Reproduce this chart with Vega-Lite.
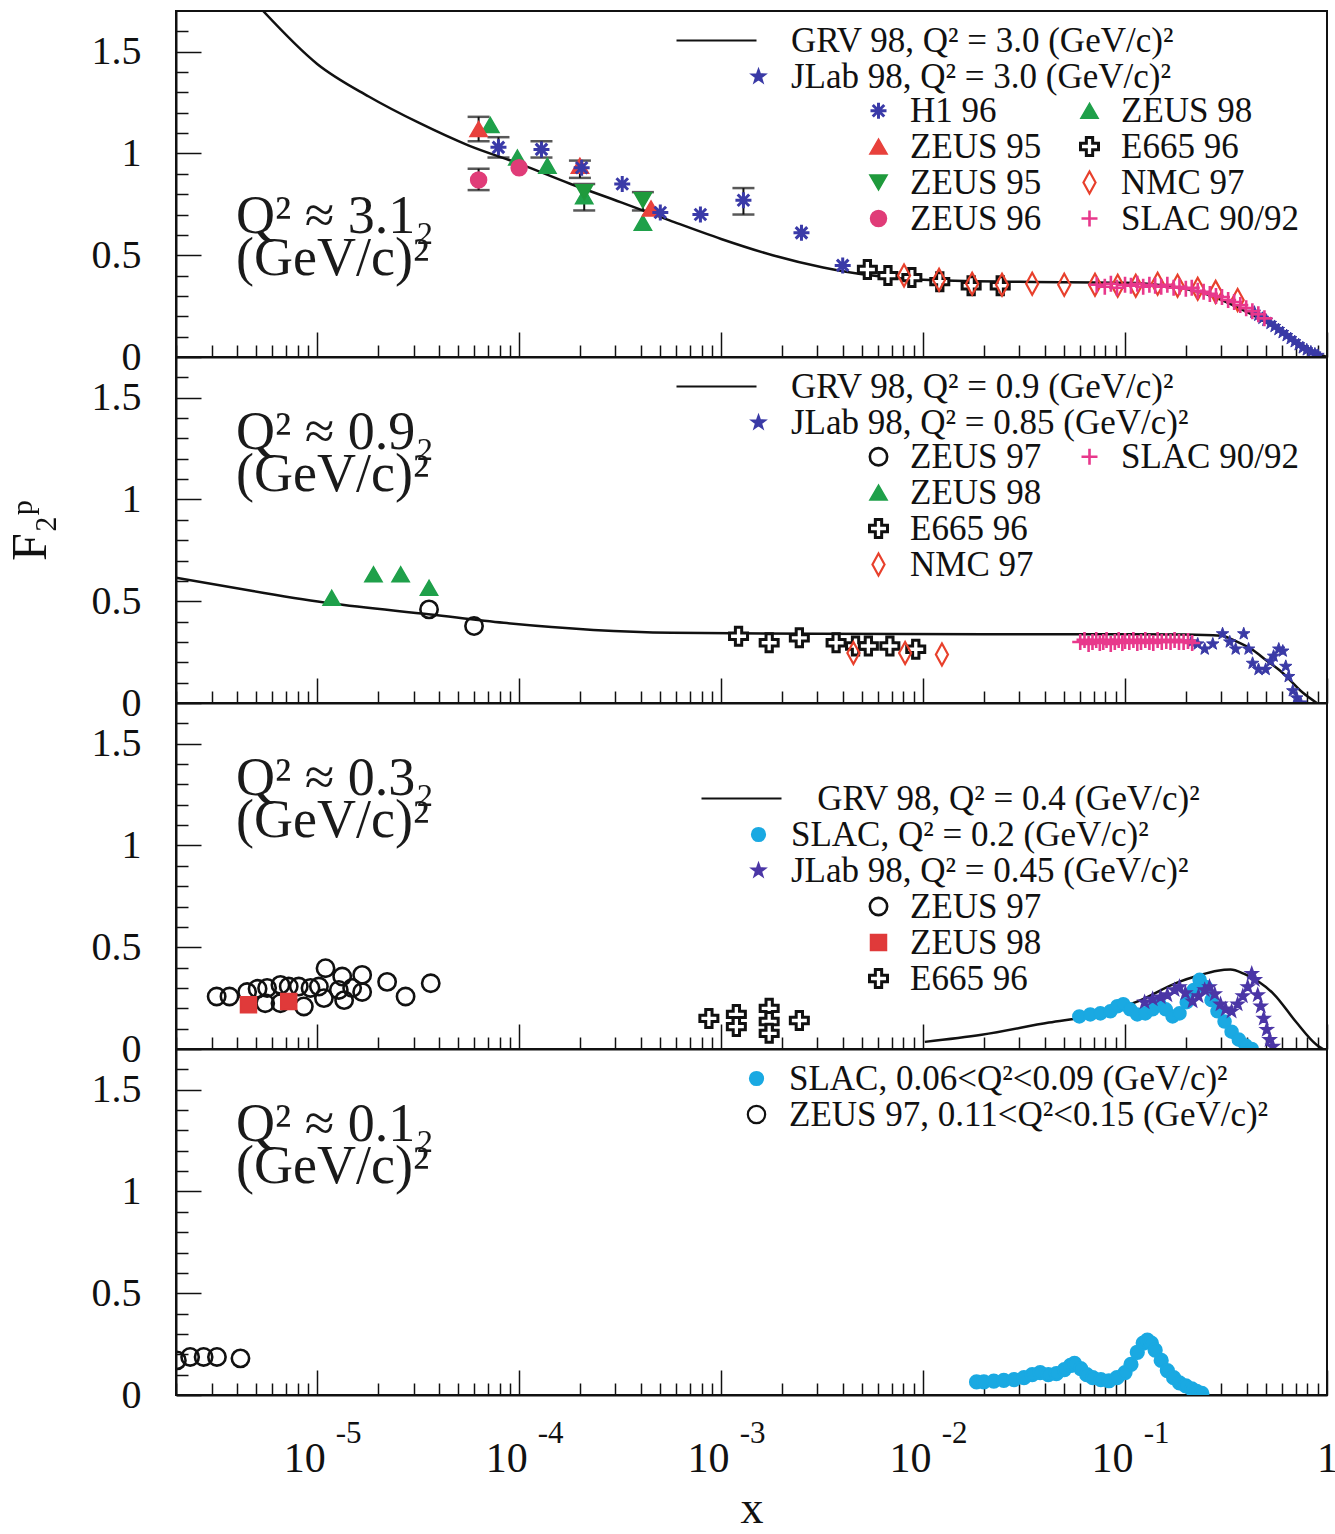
{
"$schema": "https://vega.github.io/schema/vega-lite/v6.json",
"background": "white",
"padding": {"left": 4, "top": 10, "right": 0, "bottom": 0},
"bounds": "flush",
"spacing": 0,
"datasets": {
"p1grv": [{"x":5.4e-6,"y":1.70,"s":"GRV"},{"x":1e-5,"y":1.44,"s":"GRV"},{"x":1.8e-5,"y":1.28,"s":"GRV"},{"x":3.2e-5,"y":1.15,"s":"GRV"},{"x":5.6e-5,"y":1.04,"s":"GRV"},{"x":1e-4,"y":0.95,"s":"GRV"},{"x":1.8e-4,"y":0.85,"s":"GRV"},{"x":3.2e-4,"y":0.76,"s":"GRV"},{"x":5.6e-4,"y":0.67,"s":"GRV"},{"x":1e-3,"y":0.58,"s":"GRV"},{"x":1.8e-3,"y":0.50,"s":"GRV"},{"x":3.2e-3,"y":0.44,"s":"GRV"},{"x":5.6e-3,"y":0.40,"s":"GRV"},{"x":1e-2,"y":0.38,"s":"GRV"},{"x":3e-2,"y":0.37,"s":"GRV"},{"x":0.1,"y":0.365,"s":"GRV"},{"x":0.16,"y":0.35,"s":"GRV"},{"x":0.25,"y":0.31,"s":"GRV"},{"x":0.35,"y":0.25,"s":"GRV"},{"x":0.5,"y":0.17,"s":"GRV"},{"x":0.7,"y":0.08,"s":"GRV"},{"x":0.89,"y":0.02,"s":"GRV"},{"x":1.0,"y":0.0,"s":"GRV"}],
"p1jlab": [{"x":0.437,"y":0.22,"s":"JLab"},{"x":0.457,"y":0.205,"s":"JLab"},{"x":0.479,"y":0.19,"s":"JLab"},{"x":0.501,"y":0.18,"s":"JLab"},{"x":0.525,"y":0.165,"s":"JLab"},{"x":0.55,"y":0.15,"s":"JLab"},{"x":0.575,"y":0.135,"s":"JLab"},{"x":0.603,"y":0.12,"s":"JLab"},{"x":0.631,"y":0.105,"s":"JLab"},{"x":0.661,"y":0.09,"s":"JLab"},{"x":0.692,"y":0.075,"s":"JLab"},{"x":0.724,"y":0.06,"s":"JLab"},{"x":0.759,"y":0.045,"s":"JLab"},{"x":0.794,"y":0.035,"s":"JLab"},{"x":0.832,"y":0.025,"s":"JLab"},{"x":0.871,"y":0.015,"s":"JLab"},{"x":0.902,"y":0.008,"s":"JLab"}],
"p1err": [{"x":6.3e-5,"y":1.06,"y2":1.18},{"x":6.3e-5,"y":0.82,"y2":0.925},{"x":7.9e-5,"y":0.98,"y2":1.08},{"x":1.29e-4,"y":0.98,"y2":1.06},{"x":2.0e-4,"y":0.88,"y2":0.965},{"x":2.1e-4,"y":0.72,"y2":0.85},{"x":4.1e-4,"y":0.72,"y2":0.81},{"x":1.29e-3,"y":0.70,"y2":0.83}],
"p1pts": [
{"x":5.3e-3,"y":0.43,"d":"E665 96"},{"x":6.7e-3,"y":0.40,"d":"E665 96"},{"x":8.8e-3,"y":0.39,"d":"E665 96"},{"x":1.21e-2,"y":0.37,"d":"E665 96"},{"x":1.73e-2,"y":0.35,"d":"E665 96"},{"x":2.41e-2,"y":0.35,"d":"E665 96"},
{"x":8.05e-3,"y":0.40,"d":"NMC 97"},{"x":1.2e-2,"y":0.38,"d":"NMC 97"},{"x":1.75e-2,"y":0.36,"d":"NMC 97"},{"x":2.46e-2,"y":0.355,"d":"NMC 97"},{"x":3.47e-2,"y":0.36,"d":"NMC 97"},{"x":5.0e-2,"y":0.355,"d":"NMC 97"},{"x":7.1e-2,"y":0.355,"d":"NMC 97"},{"x":9.2e-2,"y":0.35,"d":"NMC 97"},{"x":0.113,"y":0.35,"d":"NMC 97"},{"x":0.145,"y":0.36,"d":"NMC 97"},{"x":0.182,"y":0.35,"d":"NMC 97"},{"x":0.229,"y":0.335,"d":"NMC 97"},{"x":0.281,"y":0.32,"d":"NMC 97"},{"x":0.361,"y":0.28,"d":"NMC 97"},
{"x":0.0724,"y":0.355,"d":"SLAC 90/92"},{"x":0.0794,"y":0.345,"d":"SLAC 90/92"},{"x":0.0851,"y":0.36,"d":"SLAC 90/92"},{"x":0.0912,"y":0.34,"d":"SLAC 90/92"},{"x":0.1,"y":0.355,"d":"SLAC 90/92"},{"x":0.107,"y":0.35,"d":"SLAC 90/92"},{"x":0.115,"y":0.36,"d":"SLAC 90/92"},{"x":0.123,"y":0.345,"d":"SLAC 90/92"},{"x":0.132,"y":0.355,"d":"SLAC 90/92"},{"x":0.141,"y":0.35,"d":"SLAC 90/92"},{"x":0.151,"y":0.345,"d":"SLAC 90/92"},{"x":0.162,"y":0.355,"d":"SLAC 90/92"},{"x":0.174,"y":0.34,"d":"SLAC 90/92"},{"x":0.186,"y":0.345,"d":"SLAC 90/92"},{"x":0.2,"y":0.335,"d":"SLAC 90/92"},{"x":0.214,"y":0.34,"d":"SLAC 90/92"},{"x":0.229,"y":0.325,"d":"SLAC 90/92"},{"x":0.245,"y":0.32,"d":"SLAC 90/92"},{"x":0.263,"y":0.31,"d":"SLAC 90/92"},{"x":0.282,"y":0.30,"d":"SLAC 90/92"},{"x":0.302,"y":0.295,"d":"SLAC 90/92"},{"x":0.324,"y":0.28,"d":"SLAC 90/92"},{"x":0.347,"y":0.27,"d":"SLAC 90/92"},{"x":0.372,"y":0.255,"d":"SLAC 90/92"},{"x":0.398,"y":0.24,"d":"SLAC 90/92"},{"x":0.427,"y":0.225,"d":"SLAC 90/92"},{"x":0.457,"y":0.21,"d":"SLAC 90/92"},{"x":0.49,"y":0.19,"d":"SLAC 90/92"},
{"x":7.2e-5,"y":1.14,"d":"ZEUS 98"},{"x":9.8e-5,"y":0.98,"d":"ZEUS 98"},{"x":1.38e-4,"y":0.94,"d":"ZEUS 98"},{"x":2.1e-4,"y":0.79,"d":"ZEUS 98"},{"x":4.1e-4,"y":0.66,"d":"ZEUS 98"},
{"x":6.3e-5,"y":0.87,"d":"ZEUS 96"},{"x":1.0e-4,"y":0.93,"d":"ZEUS 96"},
{"x":6.3e-5,"y":1.12,"d":"ZEUS 95u"},{"x":2.0e-4,"y":0.94,"d":"ZEUS 95u"},{"x":4.5e-4,"y":0.73,"d":"ZEUS 95u"},
{"x":2.1e-4,"y":0.81,"d":"ZEUS 95d"},{"x":4.1e-4,"y":0.77,"d":"ZEUS 95d"},
{"x":7.9e-5,"y":1.03,"d":"H1 96"},{"x":1.29e-4,"y":1.02,"d":"H1 96"},{"x":2.04e-4,"y":0.93,"d":"H1 96"},{"x":3.24e-4,"y":0.85,"d":"H1 96"},{"x":5.0e-4,"y":0.71,"d":"H1 96"},{"x":7.9e-4,"y":0.70,"d":"H1 96"},{"x":1.29e-3,"y":0.77,"d":"H1 96"},{"x":2.5e-3,"y":0.61,"d":"H1 96"},{"x":4.0e-3,"y":0.45,"d":"H1 96"}],
"p2grv": [{"x":2e-6,"y":0.615,"s":"GRV"},{"x":4.8e-6,"y":0.55,"s":"GRV"},{"x":1.16e-5,"y":0.49,"s":"GRV"},{"x":3.65e-5,"y":0.435,"s":"GRV"},{"x":8.4e-5,"y":0.394,"s":"GRV"},{"x":5.7e-4,"y":0.345,"s":"GRV"},{"x":3e-3,"y":0.34,"s":"GRV"},{"x":2e-2,"y":0.338,"s":"GRV"},{"x":0.1,"y":0.338,"s":"GRV"},{"x":0.2,"y":0.337,"s":"GRV"},{"x":0.3,"y":0.33,"s":"GRV"},{"x":0.36,"y":0.3,"s":"GRV"},{"x":0.43,"y":0.26,"s":"GRV"},{"x":0.5,"y":0.21,"s":"GRV"},{"x":0.6,"y":0.15,"s":"GRV"},{"x":0.76,"y":0.05,"s":"GRV"},{"x":0.89,"y":0.0,"s":"GRV"}],
"p2jlab": [{"x":0.213,"y":0.30,"s":"JLab"},{"x":0.229,"y":0.29,"s":"JLab"},{"x":0.248,"y":0.265,"s":"JLab"},{"x":0.272,"y":0.29,"s":"JLab"},{"x":0.304,"y":0.34,"s":"JLab"},{"x":0.33,"y":0.30,"s":"JLab"},{"x":0.353,"y":0.265,"s":"JLab"},{"x":0.387,"y":0.34,"s":"JLab"},{"x":0.409,"y":0.265,"s":"JLab"},{"x":0.428,"y":0.195,"s":"JLab"},{"x":0.458,"y":0.165,"s":"JLab"},{"x":0.497,"y":0.165,"s":"JLab"},{"x":0.526,"y":0.205,"s":"JLab"},{"x":0.544,"y":0.23,"s":"JLab"},{"x":0.577,"y":0.265,"s":"JLab"},{"x":0.604,"y":0.255,"s":"JLab"},{"x":0.625,"y":0.18,"s":"JLab"},{"x":0.646,"y":0.13,"s":"JLab"},{"x":0.677,"y":0.06,"s":"JLab"},{"x":0.708,"y":0.025,"s":"JLab"},{"x":0.741,"y":0.0,"s":"JLab"}],
"p2pts": [
{"x":1.22e-3,"y":0.328,"d":"E665 96"},{"x":1.73e-3,"y":0.296,"d":"E665 96"},{"x":2.44e-3,"y":0.32,"d":"E665 96"},{"x":3.71e-3,"y":0.296,"d":"E665 96"},{"x":4.63e-3,"y":0.28,"d":"E665 96"},{"x":5.36e-3,"y":0.28,"d":"E665 96"},{"x":6.85e-3,"y":0.28,"d":"E665 96"},{"x":9.2e-3,"y":0.264,"d":"E665 96"},
{"x":4.52e-3,"y":0.246,"d":"NMC 97"},{"x":8.15e-3,"y":0.246,"d":"NMC 97"},{"x":1.24e-2,"y":0.238,"d":"NMC 97"},
{"x":0.06,"y":0.30,"d":"SLAC 90/92"},{"x":0.063,"y":0.31,"d":"SLAC 90/92"},{"x":0.066,"y":0.29,"d":"SLAC 90/92"},{"x":0.069,"y":0.30,"d":"SLAC 90/92"},{"x":0.072,"y":0.31,"d":"SLAC 90/92"},{"x":0.075,"y":0.295,"d":"SLAC 90/92"},{"x":0.078,"y":0.30,"d":"SLAC 90/92"},{"x":0.081,"y":0.31,"d":"SLAC 90/92"},{"x":0.085,"y":0.29,"d":"SLAC 90/92"},{"x":0.089,"y":0.30,"d":"SLAC 90/92"},{"x":0.093,"y":0.31,"d":"SLAC 90/92"},{"x":0.097,"y":0.295,"d":"SLAC 90/92"},{"x":0.1,"y":0.305,"d":"SLAC 90/92"},{"x":0.105,"y":0.30,"d":"SLAC 90/92"},{"x":0.11,"y":0.31,"d":"SLAC 90/92"},{"x":0.115,"y":0.295,"d":"SLAC 90/92"},{"x":0.12,"y":0.30,"d":"SLAC 90/92"},{"x":0.126,"y":0.31,"d":"SLAC 90/92"},{"x":0.132,"y":0.30,"d":"SLAC 90/92"},{"x":0.138,"y":0.295,"d":"SLAC 90/92"},{"x":0.145,"y":0.31,"d":"SLAC 90/92"},{"x":0.152,"y":0.30,"d":"SLAC 90/92"},{"x":0.16,"y":0.305,"d":"SLAC 90/92"},{"x":0.168,"y":0.30,"d":"SLAC 90/92"},{"x":0.176,"y":0.31,"d":"SLAC 90/92"},{"x":0.185,"y":0.30,"d":"SLAC 90/92"},{"x":0.195,"y":0.30,"d":"SLAC 90/92"},{"x":0.205,"y":0.305,"d":"SLAC 90/92"},{"x":0.215,"y":0.295,"d":"SLAC 90/92"},
{"x":1.18e-5,"y":0.517,"d":"ZEUS 98"},{"x":1.9e-5,"y":0.632,"d":"ZEUS 98"},{"x":2.59e-5,"y":0.632,"d":"ZEUS 98"},{"x":3.58e-5,"y":0.566,"d":"ZEUS 98"},
{"x":3.58e-5,"y":0.46,"d":"ZEUS 97"},{"x":5.98e-5,"y":0.378,"d":"ZEUS 97"}],
"p3grv": [{"x":1.02e-2,"y":0.035,"s":"GRV"},{"x":1.95e-2,"y":0.07,"s":"GRV"},{"x":4.2e-2,"y":0.13,"s":"GRV"},{"x":6.9e-2,"y":0.165,"s":"GRV"},{"x":0.113,"y":0.23,"s":"GRV"},{"x":0.185,"y":0.33,"s":"GRV"},{"x":0.229,"y":0.36,"s":"GRV"},{"x":0.287,"y":0.385,"s":"GRV"},{"x":0.333,"y":0.39,"s":"GRV"},{"x":0.387,"y":0.37,"s":"GRV"},{"x":0.459,"y":0.33,"s":"GRV"},{"x":0.545,"y":0.27,"s":"GRV"},{"x":0.70,"y":0.135,"s":"GRV"},{"x":0.89,"y":0.02,"s":"GRV"},{"x":0.955,"y":0.0,"s":"GRV"}],
"p3a": [
{"x":0.0594,"y":0.16,"s":"SLAC"},{"x":0.0673,"y":0.17,"s":"SLAC"},{"x":0.0755,"y":0.175,"s":"SLAC"},{"x":0.0846,"y":0.185,"s":"SLAC"},{"x":0.0916,"y":0.21,"s":"SLAC"},{"x":0.098,"y":0.22,"s":"SLAC"},{"x":0.106,"y":0.195,"s":"SLAC"},{"x":0.115,"y":0.17,"s":"SLAC"},{"x":0.126,"y":0.175,"s":"SLAC"},{"x":0.137,"y":0.195,"s":"SLAC"},{"x":0.148,"y":0.22,"s":"SLAC"},{"x":0.159,"y":0.195,"s":"SLAC"},{"x":0.172,"y":0.16,"s":"SLAC"},{"x":0.186,"y":0.175,"s":"SLAC"},{"x":0.202,"y":0.23,"s":"SLAC"},{"x":0.219,"y":0.29,"s":"SLAC"},{"x":0.234,"y":0.34,"s":"SLAC"},{"x":0.251,"y":0.305,"s":"SLAC"},{"x":0.268,"y":0.24,"s":"SLAC"},{"x":0.287,"y":0.185,"s":"SLAC"},{"x":0.311,"y":0.135,"s":"SLAC"},{"x":0.337,"y":0.085,"s":"SLAC"},{"x":0.366,"y":0.046,"s":"SLAC"},{"x":0.396,"y":0.017,"s":"SLAC"},{"x":0.424,"y":0.0,"s":"SLAC"},
{"x":0.125,"y":0.23,"s":"JLab"},{"x":0.137,"y":0.245,"s":"JLab"},{"x":0.15,"y":0.255,"s":"JLab"},{"x":0.162,"y":0.265,"s":"JLab"},{"x":0.176,"y":0.29,"s":"JLab"},{"x":0.186,"y":0.305,"s":"JLab"},{"x":0.199,"y":0.275,"s":"JLab"},{"x":0.216,"y":0.235,"s":"JLab"},{"x":0.231,"y":0.26,"s":"JLab"},{"x":0.248,"y":0.29,"s":"JLab"},{"x":0.262,"y":0.305,"s":"JLab"},{"x":0.278,"y":0.27,"s":"JLab"},{"x":0.297,"y":0.22,"s":"JLab"},{"x":0.315,"y":0.195,"s":"JLab"},{"x":0.337,"y":0.185,"s":"JLab"},{"x":0.361,"y":0.22,"s":"JLab"},{"x":0.383,"y":0.26,"s":"JLab"},{"x":0.405,"y":0.305,"s":"JLab"},{"x":0.424,"y":0.37,"s":"JLab"},{"x":0.439,"y":0.34,"s":"JLab"},{"x":0.454,"y":0.265,"s":"JLab"},{"x":0.47,"y":0.21,"s":"JLab"},{"x":0.486,"y":0.15,"s":"JLab"},{"x":0.503,"y":0.095,"s":"JLab"},{"x":0.52,"y":0.045,"s":"JLab"},{"x":0.539,"y":0.012,"s":"JLab"}],
"p3pts": [
{"x":3.18e-6,"y":0.258,"d":"ZEUS 97"},{"x":3.68e-6,"y":0.258,"d":"ZEUS 97"},{"x":4.5e-6,"y":0.28,"d":"ZEUS 97"},{"x":5.07e-6,"y":0.296,"d":"ZEUS 97"},{"x":5.65e-6,"y":0.30,"d":"ZEUS 97"},{"x":5.53e-6,"y":0.225,"d":"ZEUS 97"},{"x":6.58e-6,"y":0.315,"d":"ZEUS 97"},{"x":6.58e-6,"y":0.225,"d":"ZEUS 97"},{"x":7.23e-6,"y":0.307,"d":"ZEUS 97"},{"x":8.11e-6,"y":0.307,"d":"ZEUS 97"},{"x":8.59e-6,"y":0.209,"d":"ZEUS 97"},{"x":9.27e-6,"y":0.30,"d":"ZEUS 97"},{"x":1.02e-5,"y":0.307,"d":"ZEUS 97"},{"x":1.08e-5,"y":0.25,"d":"ZEUS 97"},{"x":1.10e-5,"y":0.397,"d":"ZEUS 97"},{"x":1.28e-5,"y":0.29,"d":"ZEUS 97"},{"x":1.36e-5,"y":0.24,"d":"ZEUS 97"},{"x":1.33e-5,"y":0.356,"d":"ZEUS 97"},{"x":1.49e-5,"y":0.30,"d":"ZEUS 97"},{"x":1.67e-5,"y":0.364,"d":"ZEUS 97"},{"x":1.67e-5,"y":0.28,"d":"ZEUS 97"},{"x":2.22e-5,"y":0.33,"d":"ZEUS 97"},{"x":2.74e-5,"y":0.258,"d":"ZEUS 97"},{"x":3.65e-5,"y":0.323,"d":"ZEUS 97"},
{"x":4.57e-6,"y":0.217,"d":"ZEUS 98"},{"x":7.23e-6,"y":0.233,"d":"ZEUS 98"},
{"x":8.7e-4,"y":0.15,"d":"E665 96"},{"x":1.19e-3,"y":0.17,"d":"E665 96"},{"x":1.19e-3,"y":0.11,"d":"E665 96"},{"x":1.73e-3,"y":0.20,"d":"E665 96"},{"x":1.73e-3,"y":0.135,"d":"E665 96"},{"x":1.73e-3,"y":0.077,"d":"E665 96"},{"x":2.44e-3,"y":0.14,"d":"E665 96"}],
"p4slac": [
{"x":0.0184,"y":0.064,"s":"SLAC"},{"x":0.02,"y":0.065,"s":"SLAC"},{"x":0.0224,"y":0.068,"s":"SLAC"},{"x":0.0251,"y":0.072,"s":"SLAC"},{"x":0.0282,"y":0.075,"s":"SLAC"},{"x":0.0316,"y":0.085,"s":"SLAC"},{"x":0.0347,"y":0.10,"s":"SLAC"},{"x":0.038,"y":0.11,"s":"SLAC"},{"x":0.0417,"y":0.10,"s":"SLAC"},{"x":0.0457,"y":0.105,"s":"SLAC"},{"x":0.0501,"y":0.125,"s":"SLAC"},{"x":0.0537,"y":0.145,"s":"SLAC"},{"x":0.0562,"y":0.155,"s":"SLAC"},{"x":0.0603,"y":0.13,"s":"SLAC"},{"x":0.0646,"y":0.10,"s":"SLAC"},{"x":0.0692,"y":0.085,"s":"SLAC"},{"x":0.0759,"y":0.075,"s":"SLAC"},{"x":0.0832,"y":0.07,"s":"SLAC"},{"x":0.0912,"y":0.085,"s":"SLAC"},{"x":0.1,"y":0.11,"s":"SLAC"},{"x":0.107,"y":0.15,"s":"SLAC"},{"x":0.115,"y":0.21,"s":"SLAC"},{"x":0.123,"y":0.255,"s":"SLAC"},{"x":0.129,"y":0.27,"s":"SLAC"},{"x":0.135,"y":0.255,"s":"SLAC"},{"x":0.141,"y":0.22,"s":"SLAC"},{"x":0.151,"y":0.17,"s":"SLAC"},{"x":0.162,"y":0.12,"s":"SLAC"},{"x":0.174,"y":0.085,"s":"SLAC"},{"x":0.186,"y":0.06,"s":"SLAC"},{"x":0.2,"y":0.045,"s":"SLAC"},{"x":0.214,"y":0.03,"s":"SLAC"},{"x":0.226,"y":0.018,"s":"SLAC"},{"x":0.24,"y":0.008,"s":"SLAC"}],
"p4zeus": [{"x":2.02e-6,"y":0.17,"s":"ZEUS 97"},{"x":2.35e-6,"y":0.187,"s":"ZEUS 97"},{"x":2.74e-6,"y":0.187,"s":"ZEUS 97"},{"x":3.19e-6,"y":0.187,"s":"ZEUS 97"},{"x":4.17e-6,"y":0.18,"s":"ZEUS 97"}]
},
"vconcat": [
{
"width": 1151, "height": 346,
"title": {"text": ["Q² ≈ 3.1₂", "(GeV/c)²"], "anchor": "start", "frame": "group", "orient": "top", "offset": -275, "dx": 60, "baseline": "top", "font": "Liberation Serif", "fontSize": 54, "fontWeight": "normal", "color": "#1a1a1a", "lineHeight": 42},
"encoding": {
 "x": {"field": "x", "type": "quantitative", "scale": {"type": "log", "domain": [2e-6, 1], "nice": false}, "axis": {"values": [2e-6,3e-6,4e-6,5e-6,6e-6,7e-6,8e-6,9e-6,1e-5,2e-5,3e-5,4e-5,5e-5,6e-5,7e-5,8e-5,9e-5,1e-4,2e-4,3e-4,4e-4,5e-4,6e-4,7e-4,8e-4,9e-4,1e-3,2e-3,3e-3,4e-3,5e-3,6e-3,7e-3,8e-3,9e-3,1e-2,2e-2,3e-2,4e-2,5e-2,6e-2,7e-2,8e-2,9e-2,0.1,0.2,0.3,0.4,0.5,0.6,0.7,0.8,0.9,1], "labels": false, "title": null, "tickSize": {"condition": {"test": "abs(log(datum.value)/LN10 - round(log(datum.value)/LN10)) < 0.01", "value": -25}, "value": -12}}},
 "y": {"field": "y", "type": "quantitative", "scale": {"domain": [0, 1.7], "nice": false, "zero": false}, "axis": {"values": [0,0.1,0.2,0.3,0.4,0.5,0.6,0.7,0.8,0.9,1,1.1,1.2,1.3,1.4,1.5,1.6], "labelExpr": "datum.value == 0 ? '0' : datum.value == 0.5 ? '0.5' : datum.value == 1 ? '1' : datum.value == 1.5 ? '1.5' : ''", "tickSize": {"condition": {"test": "abs(datum.value*2 - round(datum.value*2)) < 0.01", "value": -25}, "value": -12}, "labelPadding": 60, "labelFontSize": 40, "title": "F₂ᵖ", "titleFontSize": 50, "titleOpacity": 0, "titlePadding": 36}}
},
"layer": [
 {"layer": [
  {"data": {"name": "p1grv"}, "mark": {"type": "line", "strokeWidth": 2.5, "clip": true, "interpolate": "monotone"}, "encoding": {"stroke": {"field": "s", "type": "nominal", "scale": {"domain": ["GRV","JLab"], "range": ["#111111","#3a3aa6"]}}}},
  {"data": {"name": "p1jlab"}, "mark": {"type": "point", "filled": true, "opacity": 1, "strokeWidth": 1, "clip": true}, "encoding": {
   "shape": {"field": "s", "type": "nominal", "scale": {"domain": ["GRV","JLab"], "range": ["M-16.4,0L-0.4,0", "M0,-1L0.235,-0.324L0.951,-0.309L0.38,0.124L0.588,0.809L0,0.4L-0.588,0.809L-0.38,0.124L-0.951,-0.309L-0.235,-0.324Z"]}, "legend": {"orient": "none", "legendX": 565, "legendY": 12, "title": null, "labelOffset": 15, "labelExpr": "datum.label == 'GRV' ? 'GRV 98, Q² = 3.0 (GeV/c)²' : 'JLab 98, Q² = 3.0 (GeV/c)²'"}},
   "fill": {"field": "s", "type": "nominal", "scale": {"domain": ["GRV","JLab"], "range": ["transparent","#3a3aa6"]}},
   "stroke": {"field": "s", "type": "nominal", "scale": {"domain": ["GRV","JLab"], "range": ["#111111","#3a3aa6"]}},
   "size": {"field": "s", "type": "nominal", "scale": {"type": "ordinal", "domain": ["GRV","JLab"], "range": [100,170]}}
  }}
 ]},
 {"data": {"name": "p1err"}, "mark": {"type": "rule", "strokeWidth": 2, "color": "#111111"}, "encoding": {"y2": {"field": "y2"}}},
 {"data": {"name": "p1err"}, "mark": {"type": "tick", "orient": "horizontal", "size": 22, "thickness": 2.5, "color": "#111111"}},
 {"data": {"name": "p1err"}, "mark": {"type": "tick", "orient": "horizontal", "size": 22, "thickness": 2.5, "color": "#111111"}, "encoding": {"y": {"field": "y2", "type": "quantitative", "axis": {"values": [0,0.1,0.2,0.3,0.4,0.5,0.6,0.7,0.8,0.9,1,1.1,1.2,1.3,1.4,1.5,1.6], "labelExpr": "datum.value == 0 ? '0' : datum.value == 0.5 ? '0.5' : datum.value == 1 ? '1' : datum.value == 1.5 ? '1.5' : ''", "tickSize": {"condition": {"test": "abs(datum.value*2 - round(datum.value*2)) < 0.01", "value": -25}, "value": -12}, "labelPadding": 60, "labelFontSize": 40, "title": "F₂ᵖ", "titleFontSize": 50, "titleOpacity": 0, "titlePadding": 36}}}},
 {"data": {"name": "p1pts"}, "mark": {"type": "point", "filled": true, "opacity": 1, "clip": true}, "encoding": {
   "shape": {"field": "d", "type": "nominal", "scale": {"domain": ["H1 96","ZEUS 95u","ZEUS 95d","ZEUS 96","ZEUS 98","E665 96","NMC 97","SLAC 90/92"], "range": ["M-1,0L1,0M0,-1L0,1M-0.72,-0.72L0.72,0.72M-0.72,0.72L0.72,-0.72","triangle-up","triangle-down","circle","triangle-up","M-0.35,-1L0.35,-1L0.35,-0.35L1,-0.35L1,0.35L0.35,0.35L0.35,1L-0.35,1L-0.35,0.35L-1,0.35L-1,-0.35L-0.35,-0.35Z","M0,-1L0.55,0L0,1L-0.55,0Z","M-1,0L1,0M0,-1L0,1"]}, "legend": {"orient": "none", "legendX": 685, "legendY": 82, "title": null, "columns": 2, "columnPadding": 30, "labelOffset": 14, "labelExpr": "datum.label == 'ZEUS 95u' || datum.label == 'ZEUS 95d' ? 'ZEUS 95' : datum.label"}},
   "fill": {"field": "d", "type": "nominal", "scale": {"domain": ["H1 96","ZEUS 95u","ZEUS 95d","ZEUS 96","ZEUS 98","E665 96","NMC 97","SLAC 90/92"], "range": ["transparent","#e8413c","#1f9a3c","#e03c78","#1fa04a","white","transparent","transparent"]}},
   "stroke": {"field": "d", "type": "nominal", "scale": {"domain": ["H1 96","ZEUS 95u","ZEUS 95d","ZEUS 96","ZEUS 98","E665 96","NMC 97","SLAC 90/92"], "range": ["#3a3aa8","#e8413c","#1f9a3c","#e03c78","#1fa04a","#111111","#e8402c","#e8388c"]}},
   "size": {"field": "d", "type": "nominal", "scale": {"type": "ordinal", "domain": ["H1 96","ZEUS 95u","ZEUS 95d","ZEUS 96","ZEUS 98","E665 96","NMC 97","SLAC 90/92"], "range": [256,300,300,256,300,324,484,256]}},
   "strokeWidth": {"field": "d", "type": "nominal", "scale": {"type": "ordinal", "domain": ["H1 96","ZEUS 95u","ZEUS 95d","ZEUS 96","ZEUS 98","E665 96","NMC 97","SLAC 90/92"], "range": [3,1.5,1.5,1.5,1.5,3,2.2,2.6]}}
 }}
],
"resolve": {"scale": {"shape": "independent", "fill": "independent", "stroke": "independent", "size": "independent", "strokeWidth": "independent"}}
},
{
"width": 1151, "height": 346,
"title": {"text": ["Q² ≈ 0.9₂", "(GeV/c)²"], "anchor": "start", "frame": "group", "orient": "top", "offset": -145, "dx": 60, "baseline": "top", "font": "Liberation Serif", "fontSize": 54, "fontWeight": "normal", "color": "#1a1a1a", "lineHeight": 42},
"encoding": {
 "x": {"field": "x", "type": "quantitative", "scale": {"type": "log", "domain": [2e-6, 1], "nice": false}, "axis": {"values": [2e-6,3e-6,4e-6,5e-6,6e-6,7e-6,8e-6,9e-6,1e-5,2e-5,3e-5,4e-5,5e-5,6e-5,7e-5,8e-5,9e-5,1e-4,2e-4,3e-4,4e-4,5e-4,6e-4,7e-4,8e-4,9e-4,1e-3,2e-3,3e-3,4e-3,5e-3,6e-3,7e-3,8e-3,9e-3,1e-2,2e-2,3e-2,4e-2,5e-2,6e-2,7e-2,8e-2,9e-2,0.1,0.2,0.3,0.4,0.5,0.6,0.7,0.8,0.9,1], "labels": false, "title": null, "tickSize": {"condition": {"test": "abs(log(datum.value)/LN10 - round(log(datum.value)/LN10)) < 0.01", "value": -25}, "value": -12}}},
 "y": {"field": "y", "type": "quantitative", "scale": {"domain": [0, 1.7], "nice": false, "zero": false}, "axis": {"values": [0,0.1,0.2,0.3,0.4,0.5,0.6,0.7,0.8,0.9,1,1.1,1.2,1.3,1.4,1.5,1.6], "labelExpr": "datum.value == 0 ? '0' : datum.value == 0.5 ? '0.5' : datum.value == 1 ? '1' : datum.value == 1.5 ? '1.5' : ''", "tickSize": {"condition": {"test": "abs(datum.value*2 - round(datum.value*2)) < 0.01", "value": -25}, "value": -12}, "labelPadding": 60, "labelFontSize": 40, "title": "F₂ᵖ", "titleFontSize": 50, "titleOpacity": 1, "titlePadding": 36}}
},
"layer": [
 {"layer": [
  {"data": {"name": "p2grv"}, "mark": {"type": "line", "strokeWidth": 2.5, "clip": true, "interpolate": "monotone"}, "encoding": {"stroke": {"field": "s", "type": "nominal", "scale": {"domain": ["GRV","JLab"], "range": ["#111111","#3a3aa6"]}}}},
  {"data": {"name": "p2jlab"}, "mark": {"type": "point", "filled": true, "opacity": 1, "strokeWidth": 1, "clip": true}, "encoding": {
   "shape": {"field": "s", "type": "nominal", "scale": {"domain": ["GRV","JLab"], "range": ["M-16.4,0L-0.4,0", "M0,-1L0.235,-0.324L0.951,-0.309L0.38,0.124L0.588,0.809L0,0.4L-0.588,0.809L-0.38,0.124L-0.951,-0.309L-0.235,-0.324Z"]}, "legend": {"orient": "none", "legendX": 565, "legendY": 12, "title": null, "labelOffset": 15, "labelExpr": "datum.label == 'GRV' ? 'GRV 98, Q² = 0.9 (GeV/c)²' : 'JLab 98, Q² = 0.85 (GeV/c)²'"}},
   "fill": {"field": "s", "type": "nominal", "scale": {"domain": ["GRV","JLab"], "range": ["transparent","#3a3aa6"]}},
   "stroke": {"field": "s", "type": "nominal", "scale": {"domain": ["GRV","JLab"], "range": ["#111111","#3a3aa6"]}},
   "size": {"field": "s", "type": "nominal", "scale": {"type": "ordinal", "domain": ["GRV","JLab"], "range": [100,170]}}
  }}
 ]},
 {"data": {"name": "p2pts"}, "mark": {"type": "point", "filled": true, "opacity": 1, "clip": true}, "encoding": {
   "shape": {"field": "d", "type": "nominal", "scale": {"domain": ["ZEUS 97","ZEUS 98","E665 96","NMC 97","SLAC 90/92","_1","_2","_3"], "range": ["circle","triangle-up","M-0.35,-1L0.35,-1L0.35,-0.35L1,-0.35L1,0.35L0.35,0.35L0.35,1L-0.35,1L-0.35,0.35L-1,0.35L-1,-0.35L-0.35,-0.35Z","M0,-1L0.55,0L0,1L-0.55,0Z","M-1,0L1,0M0,-1L0,1","circle","circle","circle"]}, "legend": {"orient": "none", "legendX": 685, "legendY": 82, "title": null, "columns": 2, "columnPadding": 30, "labelOffset": 14, "labelExpr": "indexof(datum.label, '_') == 0 ? ' ' : datum.label"}},
   "fill": {"field": "d", "type": "nominal", "scale": {"domain": ["ZEUS 97","ZEUS 98","E665 96","NMC 97","SLAC 90/92","_1","_2","_3"], "range": ["transparent","#1fa04a","white","transparent","transparent","transparent","transparent","transparent"]}},
   "stroke": {"field": "d", "type": "nominal", "scale": {"domain": ["ZEUS 97","ZEUS 98","E665 96","NMC 97","SLAC 90/92","_1","_2","_3"], "range": ["#111111","#1fa04a","#111111","#e8402c","#e8388c","transparent","transparent","transparent"]}},
   "size": {"field": "d", "type": "nominal", "scale": {"type": "ordinal", "domain": ["ZEUS 97","ZEUS 98","E665 96","NMC 97","SLAC 90/92","_1","_2","_3"], "range": [300,300,324,484,256,4,4,4]}},
   "strokeWidth": {"field": "d", "type": "nominal", "scale": {"type": "ordinal", "domain": ["ZEUS 97","ZEUS 98","E665 96","NMC 97","SLAC 90/92","_1","_2","_3"], "range": [2.6,1.5,3,2.2,2.6,1,1,1]}}
 }}
],
"resolve": {"scale": {"shape": "independent", "fill": "independent", "stroke": "independent", "size": "independent", "strokeWidth": "independent"}}
},
{
"width": 1151, "height": 346,
"title": {"text": ["Q² ≈ 0.3₂", "(GeV/c)²"], "anchor": "start", "frame": "group", "orient": "top", "offset": -145, "dx": 60, "baseline": "top", "font": "Liberation Serif", "fontSize": 54, "fontWeight": "normal", "color": "#1a1a1a", "lineHeight": 42},
"encoding": {
 "x": {"field": "x", "type": "quantitative", "scale": {"type": "log", "domain": [2e-6, 1], "nice": false}, "axis": {"values": [2e-6,3e-6,4e-6,5e-6,6e-6,7e-6,8e-6,9e-6,1e-5,2e-5,3e-5,4e-5,5e-5,6e-5,7e-5,8e-5,9e-5,1e-4,2e-4,3e-4,4e-4,5e-4,6e-4,7e-4,8e-4,9e-4,1e-3,2e-3,3e-3,4e-3,5e-3,6e-3,7e-3,8e-3,9e-3,1e-2,2e-2,3e-2,4e-2,5e-2,6e-2,7e-2,8e-2,9e-2,0.1,0.2,0.3,0.4,0.5,0.6,0.7,0.8,0.9,1], "labels": false, "title": null, "tickSize": {"condition": {"test": "abs(log(datum.value)/LN10 - round(log(datum.value)/LN10)) < 0.01", "value": -25}, "value": -12}}},
 "y": {"field": "y", "type": "quantitative", "scale": {"domain": [0, 1.7], "nice": false, "zero": false}, "axis": {"values": [0,0.1,0.2,0.3,0.4,0.5,0.6,0.7,0.8,0.9,1,1.1,1.2,1.3,1.4,1.5,1.6], "labelExpr": "datum.value == 0 ? '0' : datum.value == 0.5 ? '0.5' : datum.value == 1 ? '1' : datum.value == 1.5 ? '1.5' : ''", "tickSize": {"condition": {"test": "abs(datum.value*2 - round(datum.value*2)) < 0.01", "value": -25}, "value": -12}, "labelPadding": 60, "labelFontSize": 40, "title": "F₂ᵖ", "titleFontSize": 50, "titleOpacity": 0, "titlePadding": 36}}
},
"layer": [
 {"layer": [
  {"data": {"name": "p3grv"}, "mark": {"type": "line", "strokeWidth": 2.5, "clip": true, "interpolate": "monotone"}, "encoding": {"stroke": {"field": "s", "type": "nominal", "scale": {"domain": ["GRV","SLAC","JLab"], "range": ["#111111","#1aa9e2","#4b36a6"]}}}},
  {"data": {"name": "p3a"}, "mark": {"type": "point", "filled": true, "opacity": 1, "strokeWidth": 1.5, "clip": true}, "encoding": {
   "shape": {"field": "s", "type": "nominal", "scale": {"domain": ["GRV","SLAC","JLab"], "range": ["M-11.4,0L4.6,0", "circle", "M0,-1L0.235,-0.324L0.951,-0.309L0.38,0.124L0.588,0.809L0,0.4L-0.588,0.809L-0.38,0.124L-0.951,-0.309L-0.235,-0.324Z"]}, "legend": {"orient": "none", "legendX": 565, "legendY": 78, "title": null, "labelOffset": 15, "labelExpr": "datum.label == 'GRV' ? '\u200b\u00a0\u00a0\u00a0GRV 98, Q² = 0.4 (GeV/c)²' : datum.label == 'SLAC' ? 'SLAC, Q² = 0.2 (GeV/c)²' : 'JLab 98, Q² = 0.45 (GeV/c)²'"}},
   "fill": {"field": "s", "type": "nominal", "scale": {"domain": ["GRV","SLAC","JLab"], "range": ["transparent","#1aa9e2","#4b36a6"]}},
   "stroke": {"field": "s", "type": "nominal", "scale": {"domain": ["GRV","SLAC","JLab"], "range": ["#111111","#1aa9e2","#4b36a6"]}},
   "size": {"field": "s", "type": "nominal", "scale": {"type": "ordinal", "domain": ["GRV","SLAC","JLab"], "range": [100,170,170]}}
  }}
 ]},
 {"data": {"name": "p3pts"}, "mark": {"type": "point", "filled": true, "opacity": 1, "clip": true}, "encoding": {
   "shape": {"field": "d", "type": "nominal", "scale": {"domain": ["ZEUS 97","ZEUS 98","E665 96"], "range": ["circle","square","M-0.35,-1L0.35,-1L0.35,-0.35L1,-0.35L1,0.35L0.35,0.35L0.35,1L-0.35,1L-0.35,0.35L-1,0.35L-1,-0.35L-0.35,-0.35Z"]}, "legend": {"orient": "none", "legendX": 685, "legendY": 186, "title": null, "labelOffset": 14}},
   "fill": {"field": "d", "type": "nominal", "scale": {"domain": ["ZEUS 97","ZEUS 98","E665 96"], "range": ["transparent","#e03a3a","white"]}},
   "stroke": {"field": "d", "type": "nominal", "scale": {"domain": ["ZEUS 97","ZEUS 98","E665 96"], "range": ["#111111","#e03a3a","#111111"]}},
   "size": {"field": "d", "type": "nominal", "scale": {"type": "ordinal", "domain": ["ZEUS 97","ZEUS 98","E665 96"], "range": [300,256,324]}},
   "strokeWidth": {"field": "d", "type": "nominal", "scale": {"type": "ordinal", "domain": ["ZEUS 97","ZEUS 98","E665 96"], "range": [2.6,1.5,3]}}
 }}
],
"resolve": {"scale": {"shape": "independent", "fill": "independent", "stroke": "independent", "size": "independent", "strokeWidth": "independent"}}
},
{
"width": 1151, "height": 346,
"title": {"text": ["Q² ≈ 0.1₂", "(GeV/c)²"], "anchor": "start", "frame": "group", "orient": "top", "offset": -145, "dx": 60, "baseline": "top", "font": "Liberation Serif", "fontSize": 54, "fontWeight": "normal", "color": "#1a1a1a", "lineHeight": 42},
"encoding": {
 "x": {"field": "x", "type": "quantitative", "scale": {"type": "log", "domain": [2e-6, 1], "nice": false}, "axis": {"orient": "bottom", "values": [2e-6,3e-6,4e-6,5e-6,6e-6,7e-6,8e-6,9e-6,1e-5,2e-5,3e-5,4e-5,5e-5,6e-5,7e-5,8e-5,9e-5,1e-4,2e-4,3e-4,4e-4,5e-4,6e-4,7e-4,8e-4,9e-4,1e-3,2e-3,3e-3,4e-3,5e-3,6e-3,7e-3,8e-3,9e-3,1e-2,2e-2,3e-2,4e-2,5e-2,6e-2,7e-2,8e-2,9e-2,0.1,0.2,0.3,0.4,0.5,0.6,0.7,0.8,0.9,1], "labelExpr": "datum.value == 1 ? '1' : abs(log(datum.value)/LN10 - round(log(datum.value)/LN10)) < 0.01 ? '10' : ''", "labelOffset": {"condition": {"test": "datum.value == 1", "value": 0}, "value": -13}, "labelFontSize": 42, "labelPadding": 68, "title": "x", "titleFontSize": 46, "titlePadding": -6, "tickSize": {"condition": {"test": "abs(log(datum.value)/LN10 - round(log(datum.value)/LN10)) < 0.01", "value": -25}, "value": -12}}},
 "y": {"field": "y", "type": "quantitative", "scale": {"domain": [0, 1.7], "nice": false, "zero": false}, "axis": {"values": [0,0.1,0.2,0.3,0.4,0.5,0.6,0.7,0.8,0.9,1,1.1,1.2,1.3,1.4,1.5,1.6], "labelExpr": "datum.value == 0 ? '0' : datum.value == 0.5 ? '0.5' : datum.value == 1 ? '1' : datum.value == 1.5 ? '1.5' : ''", "tickSize": {"condition": {"test": "abs(datum.value*2 - round(datum.value*2)) < 0.01", "value": -25}, "value": -12}, "labelPadding": 60, "labelFontSize": 40, "title": "F₂ᵖ", "titleFontSize": 50, "titleOpacity": 0, "titlePadding": 36}}
},
"layer": [
 {"layer": [
  {"data": {"name": "p4slac"}, "mark": {"type": "point", "filled": true, "opacity": 1, "strokeWidth": 2.2, "clip": true}, "encoding": {
   "shape": {"field": "s", "type": "nominal", "scale": {"domain": ["SLAC","ZEUS 97"], "range": ["circle","circle"]}, "legend": {"orient": "none", "legendX": 563, "legendY": 12, "title": null, "labelOffset": 15, "labelExpr": "datum.label == 'SLAC' ? 'SLAC, 0.06<Q²<0.09 (GeV/c)²' : 'ZEUS 97, 0.11<Q²<0.15 (GeV/c)²'"}},
   "fill": {"field": "s", "type": "nominal", "scale": {"domain": ["SLAC","ZEUS 97"], "range": ["#1aa9e2","transparent"]}},
   "stroke": {"field": "s", "type": "nominal", "scale": {"domain": ["SLAC","ZEUS 97"], "range": ["#1aa9e2","#111111"]}},
   "size": {"field": "s", "type": "nominal", "scale": {"type": "ordinal", "domain": ["SLAC","ZEUS 97"], "range": [170,300]}}
  }},
  {"data": {"name": "p4zeus"}, "mark": {"type": "point", "filled": true, "opacity": 1, "strokeWidth": 2.6, "clip": true}, "encoding": {
   "x": {"field": "x", "type": "quantitative", "scale": {"type": "log", "domain": [2e-6, 1], "nice": false}, "axis": {"orient": "bottom", "values": [1e-5,1e-4,1e-3,1e-2,0.1], "ticks": false, "tickSize": 0, "domain": false, "labelExpr": "datum.value == 0.1 ? '-1' : datum.value == 0.01 ? '-2' : datum.value == 0.001 ? '-3' : datum.value == 0.0001 ? '-4' : datum.value == 0.00001 ? '-5' : ''", "labelFontSize": 31, "labelPadding": 23, "labelOffset": 31, "title": null}},
   "shape": {"field": "s", "type": "nominal", "scale": {"domain": ["SLAC","ZEUS 97"], "range": ["circle","circle"]}},
   "fill": {"field": "s", "type": "nominal", "scale": {"domain": ["SLAC","ZEUS 97"], "range": ["#1aa9e2","transparent"]}},
   "stroke": {"field": "s", "type": "nominal", "scale": {"domain": ["SLAC","ZEUS 97"], "range": ["#1aa9e2","#111111"]}},
   "size": {"field": "s", "type": "nominal", "scale": {"type": "ordinal", "domain": ["SLAC","ZEUS 97"], "range": [170,300]}}
  }}
 ], "resolve": {"axis": {"x": "independent"}}}
],
"resolve": {"scale": {"shape": "independent", "fill": "independent", "stroke": "independent", "size": "independent"}}
}
],
"config": {
 "font": "Liberation Serif",
 "view": {"stroke": "#111111", "strokeWidth": 2},
 "axis": {"labelFont": "Liberation Serif", "titleFont": "Liberation Serif", "labelColor": "#111111", "titleColor": "#111111", "tickColor": "#111111", "domainColor": "#111111", "domainWidth": 2, "tickWidth": 1.5, "grid": false, "labelFlush": false, "labelOverlap": false, "titleFontWeight": "normal"},
 "legend": {"labelFont": "Liberation Serif", "labelFontSize": 35, "labelColor": "#111111", "labelLimit": 0, "rowPadding": 0, "padding": 0, "symbolStrokeWidth": 2.2, "symbolLimit": 0}
}
}
